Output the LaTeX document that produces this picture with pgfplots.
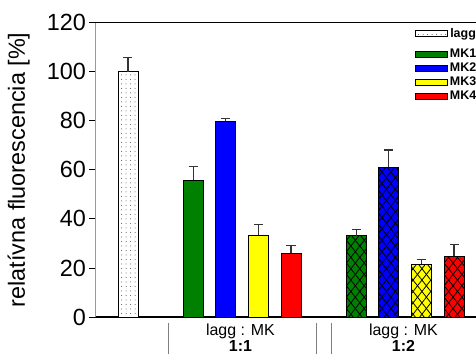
\documentclass[border=0pt]{standalone}
\usepackage{pgfplots}
\pgfplotsset{compat=1.18}
\usepackage{fontspec}
\setmainfont{Liberation Sans}
\usetikzlibrary{patterns,patterns.meta}
\definecolor{cgreen}{RGB}{0,128,0}
\definecolor{cblue}{RGB}{0,0,255}
\definecolor{cyellow}{RGB}{255,255,0}
\definecolor{cred}{RGB}{255,0,0}
\begin{document}
\begin{tikzpicture}
\path[use as bounding box] (-128bp,-37bp) rectangle (348bp,317bp);
\clip (-128bp,-37bp) rectangle (348bp,317bp);
\begin{axis}[
  anchor=origin, at={(0,0)},
  x=32.6bp, y=2.4525bp,
  xmin=-1, xmax=13, ymin=0, ymax=120,
  clip=false,
  axis x line*=bottom, axis y line*=left,
  x axis line style={black, line width=1.8bp},
  y axis line style={gray!80, line width=0.9bp},
  ytick={0,20,...,120},
  ytick style={black, line width=0.8bp},
  y tick label style={font=\fontsize{23.5}{28}\selectfont},
  /pgf/number format/assume math mode=true,
  tick align=outside, major tick length=6bp,
  xtick={3.45,8.45},
  xticklabels={{lagg : MK\\\textbf{1:1}},{lagg : MK\\\textbf{1:2}}},
  x tick label style={font=\fontsize{16}{16.5}\selectfont, align=center, yshift=3bp},
  xtick style={draw=none},
  ylabel={relatívna fluorescencia [\%]},
  every axis y label/.style={at={(axis cs:-3.35,60)}, rotate=90, anchor=center, font=\fontsize{23.5}{28}\selectfont},
  ybar, bar width=20bp, bar shift=0pt,
  error bars/y dir=plus, error bars/y explicit,
  error bars/error bar style={black!80, line width=1.1bp},
  error bars/error mark options={black!80, line width=1.1bp, mark size=4.5bp, rotate=90},
  legend style={at={(axis cs:8.78,119)}, anchor=north west, draw=none, fill=none,
    font=\fontsize{12.5}{13}\bfseries, row sep=0bp, inner sep=1bp,
    /tikz/every even column/.append style={column sep=7bp}},
  legend image code/.code={\draw[#1,line width=0.5bp] (0bp,-3bp) rectangle (32bp,3bp);},
]
\addplot[draw=black, line width=0.8bp, fill=white, postaction={pattern={Dots[distance=4.5bp,radius=0.5bp]}, pattern color=black!70}]
  coordinates {(0,100) +- (0,5.7)};
\addlegendentry{lagg}
\addlegendimage{empty legend}
\addlegendentry[inner sep=0pt]{\rule{0pt}{4.5bp}}
\addplot[draw=black, line width=0.8bp, fill=cgreen]
  coordinates {(2,55.9) +- (0,5.4)};
\addlegendentry{MK1}
\addplot[draw=black, line width=0.8bp, fill=cblue]
  coordinates {(3,79.9) +- (0,1.1)};
\addlegendentry{MK2}
\addplot[draw=black, line width=0.8bp, fill=cyellow]
  coordinates {(4,33.3) +- (0,4.5)};
\addlegendentry{MK3}
\addplot[draw=black, line width=0.8bp, fill=cred]
  coordinates {(5,26.0) +- (0,3.1)};
\addlegendentry{MK4}
\addplot[draw=black, line width=0.8bp, fill=cgreen,
  postaction={pattern={Lines[angle=52,distance=7bp,line width=0.8bp]}},
  postaction={pattern={Lines[angle=-52,distance=7bp,line width=0.8bp]}}, forget plot]
  coordinates {(7,33.2) +- (0,2.6)};
\addplot[draw=black, line width=0.8bp, fill=cblue,
  postaction={pattern={Lines[angle=52,distance=7bp,line width=0.8bp]}},
  postaction={pattern={Lines[angle=-52,distance=7bp,line width=0.8bp]}}, forget plot]
  coordinates {(8,61.0) +- (0,7.1)};
\addplot[draw=black, line width=0.8bp, fill=cyellow,
  postaction={pattern={Lines[angle=52,distance=7bp,line width=0.8bp]}},
  postaction={pattern={Lines[angle=-52,distance=7bp,line width=0.8bp]}}, forget plot]
  coordinates {(9,21.6) +- (0,1.8)};
\addplot[draw=black, line width=0.8bp, fill=cred,
  postaction={pattern={Lines[angle=52,distance=7bp,line width=0.8bp]}},
  postaction={pattern={Lines[angle=-52,distance=7bp,line width=0.8bp]}}, forget plot]
  coordinates {(10,24.7) +- (0,4.8)};
\draw[black, line width=0.8bp] (axis cs:-1,120) -- (axis cs:13,120);
\draw[gray, line width=0.8bp] (axis cs:1.24,-2.5) -- (axis cs:1.24,-16);
\draw[gray, line width=0.8bp] (axis cs:5.79,-2.5) -- (axis cs:5.79,-16);
\draw[gray, line width=0.8bp] (axis cs:6.25,-2.5) -- (axis cs:6.25,-16);
\end{axis}
\end{tikzpicture}
\end{document}
